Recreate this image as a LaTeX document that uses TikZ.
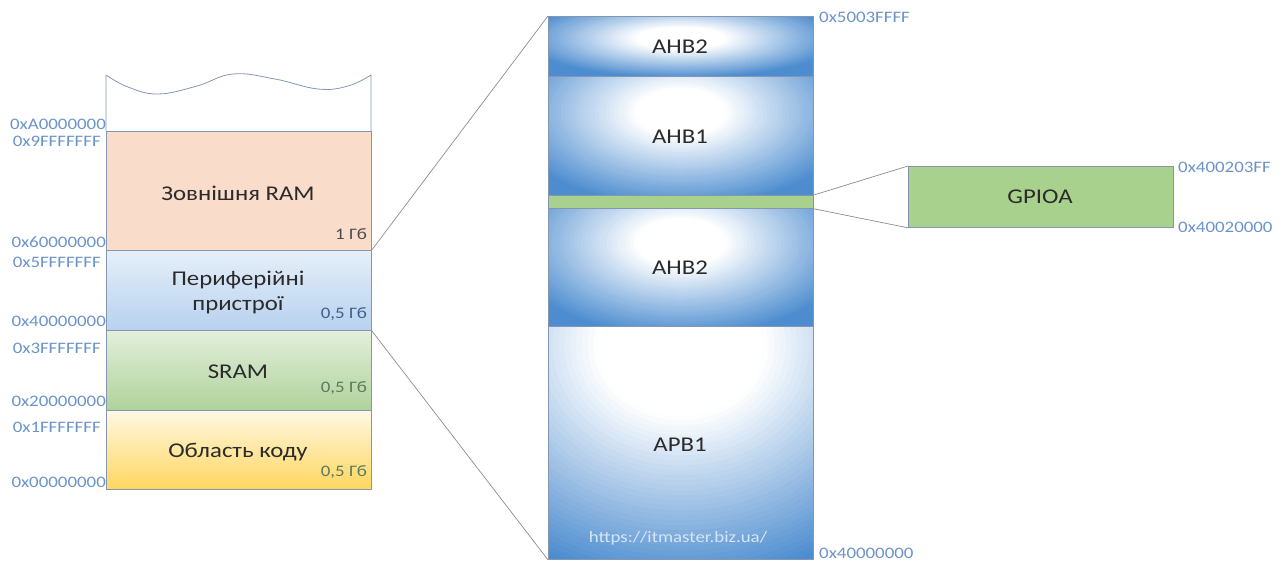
\documentclass[tikz,border=0pt]{standalone}
\usepackage{fontspec}
\setmainfont{Carlito}[FakeStretch=1.18]
\usetikzlibrary{calc}
\definecolor{addr}{HTML}{6B93C9}
\definecolor{bord}{HTML}{8496B0}
\definecolor{conncol}{HTML}{8C8C8C}
\definecolor{txt}{HTML}{2B2B2B}
\definecolor{ramfill}{HTML}{FADCCB}
\definecolor{bluefill}{HTML}{4C8CCF}
\definecolor{greenfill}{HTML}{A9D18E}
\definecolor{wmark}{HTML}{D6E6F6}
\definecolor{codetop}{HTML}{FFF8E4}
\definecolor{codebot}{HTML}{FFD65E}
\definecolor{peritop}{HTML}{E6EFF9}
\definecolor{peribot}{HTML}{B7D1EE}
\definecolor{sramtop}{HTML}{E3EFDC}
\definecolor{srambot}{HTML}{AFD29A}
\definecolor{sizeblue}{HTML}{3F5F88}
\definecolor{sizegreen}{HTML}{5A7A5A}
\newcommand\mainfs{\fontsize{21}{25}\selectfont}
\newcommand\addrfs{\fontsize{16}{19}\selectfont}
\begin{document}
\begin{tikzpicture}[x=1pt,y=-1pt,
  mem/.style={draw=bord, line width=0.8pt, minimum width=265pt, inner sep=0pt, anchor=north west, rectangle},
  glowbox/.style n args={4}{path picture={
     \fill[bluefill] (path picture bounding box.south west) rectangle (path picture bounding box.north east);
     \foreach \k in {0,...,47}{
       \pgfmathsetmacro\ff{1-\k/48}
       \pgfmathtruncatemacro\pp{max(0,min(100,(\ff-#4)/(1-#4)*100))}
       \fill[bluefill!\pp!white] ($(path picture bounding box.north)+(0,#1)$) ellipse ({#2*\ff} and {#3*\ff});
     }}},
  lbl/.style={text=txt, font=\mainfs, inner sep=0pt},
  size/.style={text=txt!85, font=\addrfs, inner sep=0pt, anchor=east},
  addrl/.style={text=addr, font=\addrfs, inner sep=0pt, anchor=east},
  addrr/.style={text=addr, font=\addrfs, inner sep=0pt, anchor=west},
  conn/.style={draw=conncol, line width=0.7pt}]
\useasboundingbox (0,0) rectangle (1282,563);

% top open region with wavy edge
\draw[bord, line width=0.8pt] (106,131) -- (106,75)
  plot[smooth, tension=0.7] coordinates {(106,75) (128,87) (158,94) (197,86) (233,74) (275,79) (318,89) (348,86) (371,75)}
  -- (371,131);

% left column
\node[mem, fill=ramfill, minimum height=119pt] (ram) at (106,131) {};
\node[mem, top color=peritop, bottom color=peribot, minimum height=80pt] (peri) at (106,250) {};
\node[mem, top color=sramtop, bottom color=srambot, minimum height=80pt] (sram) at (106,330) {};
\node[mem, top color=codetop, bottom color=codebot, minimum height=79pt] (code) at (106,410) {};

\node[lbl] (tram) at (238,193) {Зовнішня RAM};
\node[size] (sram1) at (367,234) {1 Гб};
\node[lbl] (tperi1) at (238,280) {Периферійні};
\node[lbl] (tperi2) at (238,305) {пристрої};
\node[size, text=sizeblue] (speri) at (367,314) {0,5 Гб};
\node[lbl] (tsram) at (238,372) {SRAM};
\node[size, text=sizegreen] (ssram) at (367,388) {0,5 Гб};
\node[lbl] (tcode) at (238,452) {Область коду};
\node[size, text=sizegreen] (scode) at (367,472) {0,5 Гб};

\node[addrl] (a1) at (106,124) {0xA0000000};
\node[addrl] (a2) at (101,141) {0x9FFFFFFF};
\node[addrl] (a3) at (106,242) {0x60000000};
\node[addrl] (a4) at (101,262) {0x5FFFFFFF};
\node[addrl] (a5) at (106,321) {0x40000000};
\node[addrl] (a6) at (101,348) {0x3FFFFFFF};
\node[addrl] (a7) at (106,401) {0x20000000};
\node[addrl] (a8) at (101,427) {0x1FFFFFFF};
\node[addrl] (a9) at (106,482) {0x00000000};

% right column
\node[mem, glowbox={22}{160}{40}{0.28}, minimum height=60pt] (ahb2a) at (548,16) {};
\node[mem, glowbox={36}{180}{95}{0.25}, minimum height=119pt] (ahb1) at (548,76) {};
\node[mem, fill=greenfill, minimum height=13pt] (gpios) at (548,195) {};
\node[mem, glowbox={34}{178}{95}{0.25}, minimum height=118pt] (ahb2b) at (548,208) {};
\node[mem, glowbox={19}{280}{240}{0.3}, minimum height=233pt] (apb1) at (548,326) {};

\node[lbl] (tahb2a) at (680,47) {AHB2};
\node[lbl] (tahb1) at (680,137) {AHB1};
\node[lbl] (tahb2b) at (680,268) {AHB2};
\node[lbl] (tapb1) at (680,445) {APB1};
\node[text=wmark, font=\addrfs, inner sep=0pt] (wm) at (678,538) {https://itmaster.biz.ua/};

\node[addrr] (r1) at (819,17) {0x5003FFFF};
\node[addrr] (r2) at (819,553) {0x40000000};

% GPIOA
\node[draw=bord, line width=0.8pt, fill=greenfill, minimum width=265pt, minimum height=61pt, inner sep=0pt, anchor=north west] (gpioa) at (908,166) {};
\node[lbl] (tgpioa) at (1040,197) {GPIOA};
\node[addrr] (g1) at (1178,167) {0x400203FF};
\node[addrr] (g2) at (1178,227) {0x40020000};

% connectors
\draw[conn] (peri.north east) -- (ahb2a.north west);
\draw[conn] (peri.south east) -- (apb1.south west);
\draw[conn] (gpios.north east) -- (gpioa.north west);
\draw[conn] (gpios.south east) -- (gpioa.south west);
\end{tikzpicture}
\end{document}
